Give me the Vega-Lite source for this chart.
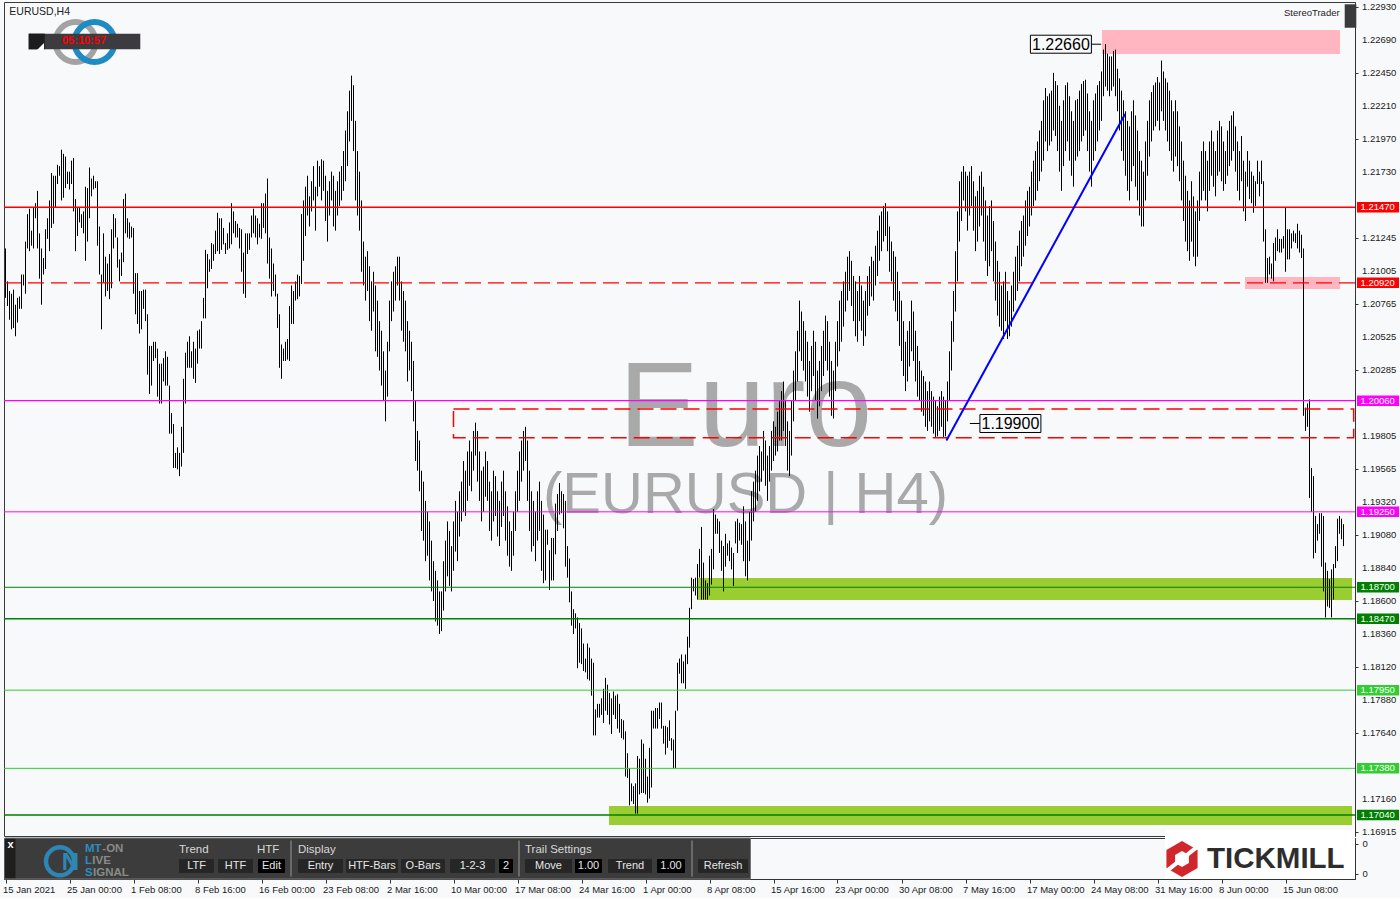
{
"$schema": "https://vega.github.io/schema/vega-lite/v6.json",
"background": "#F8F9FB",
"padding": {"left": 2, "top": 1, "right": 4, "bottom": 4},
"spacing": 2,
"bounds": "flush",
"resolve": {"scale": {"color": "independent"}},
"config": {
 "view": {"stroke": "#3a3a3a", "strokeWidth": 1, "fill": "#F8F9FB"},
 "font": "Liberation Sans",
 "axis": {"labelFont": "Liberation Sans", "labelFontSize": 9.5, "labelColor": "#1a1a1a", "domainColor": "#333333", "tickColor": "#333333", "grid": false, "title": null, "labelOverlap": false, "labelFlush": false, "labelBound": false}
},
"datasets": {
 "levels": [
  {"p": 1.2147, "kind": "red", "w": "thick", "d": "solid"},
  {"p": 1.2092, "kind": "red", "w": "mid", "d": "dashed"},
  {"p": 1.2006, "kind": "magenta", "w": "mid", "d": "solid"},
  {"p": 1.1925, "kind": "magenta", "w": "thin", "d": "solid"},
  {"p": 1.187, "kind": "green", "w": "thin", "d": "solid"},
  {"p": 1.1847, "kind": "green", "w": "thick", "d": "solid"},
  {"p": 1.1795, "kind": "lime", "w": "thin", "d": "solid"},
  {"p": 1.1738, "kind": "lime", "w": "thin", "d": "solid"},
  {"p": 1.1704, "kind": "green", "w": "thick", "d": "solid"}
 ],
 "ticks": [{"p": 1.2293}, {"p": 1.2269}, {"p": 1.2245}, {"p": 1.2221}, {"p": 1.2197}, {"p": 1.2173}, {"p": 1.21245}, {"p": 1.21005}, {"p": 1.20765}, {"p": 1.20525}, {"p": 1.20285}, {"p": 1.19805}, {"p": 1.19565}, {"p": 1.1932}, {"p": 1.1908}, {"p": 1.1884}, {"p": 1.186}, {"p": 1.1836}, {"p": 1.1812}, {"p": 1.1788}, {"p": 1.1764}, {"p": 1.1716}, {"p": 1.16915}]
},
"vconcat": [
{
 "width": 1351, "height": 834,
 "layer": [
  {"data": {"values": [
    {"i": 548.25, "i2": 667.25, "p": 1.22588, "p2": 1.22763, "kind": "supply"},
    {"i": 619.75, "i2": 667.25, "p": 1.20874, "p2": 1.20962, "kind": "supply"},
    {"i": 346.25, "i2": 673.25, "p": 1.18607, "p2": 1.18768, "kind": "demand"},
    {"i": 301.75, "i2": 673.25, "p": 1.16967, "p2": 1.17106, "kind": "demand"}]},
   "mark": {"type": "rect"},
   "encoding": {
    "x": {"field": "i", "type": "quantitative", "scale": {"domain": [-0.75, 674.75], "nice": false, "zero": false}, "axis": null},
    "x2": {"field": "i2"},
    "y": {"field": "p", "type": "quantitative", "scale": {"domain": [1.168868, 1.229667], "nice": false, "zero": false}},
    "y2": {"field": "p2"},
    "color": {"field": "kind", "type": "nominal", "scale": {"domain": ["supply", "demand", "red", "magenta", "green", "lime"], "range": ["#FFB6C1", "#9ACD32", "#FF0000", "#FF00FF", "#008000", "#32CD32"]}, "legend": null}}},
  {"data": {"values": [{"i": 370, "p": 1.1973, "label": "Euro"}]},
   "mark": {"type": "text", "fontSize": 120, "color": "#A9A9A9", "align": "center", "baseline": "alphabetic", "font": "Liberation Sans"},
   "encoding": {
    "x": {"field": "i", "type": "quantitative", "scale": {"domain": [-0.75, 674.75], "nice": false, "zero": false}, "axis": null},
    "y": {"field": "p", "type": "quantitative", "scale": {"domain": [1.168868, 1.229667], "nice": false, "zero": false}},
    "text": {"field": "label"}}},
  {"data": {"values": [{"i": 370, "p": 1.1924, "label": "(EURUSD | H4)"}]},
   "mark": {"type": "text", "fontSize": 58, "color": "#A9A9A9", "align": "center", "baseline": "alphabetic", "font": "Liberation Sans"},
   "encoding": {
    "x": {"field": "i", "type": "quantitative", "scale": {"domain": [-0.75, 674.75], "nice": false, "zero": false}, "axis": null},
    "y": {"field": "p", "type": "quantitative", "scale": {"domain": [1.168868, 1.229667], "nice": false, "zero": false}},
    "text": {"field": "label"}}},
  {"data": {"values": "i,h,l\n0,1.2117,1.2081\n1,1.2093,1.2075\n2,1.2086,1.2065\n3,1.2084,1.2058\n4,1.2087,1.2059\n5,1.2076,1.2053\n6,1.2081,1.2063\n7,1.2082,1.2073\n8,1.2098,1.2073\n9,1.2098,1.2090\n10,1.2122,1.2084\n11,1.2142,1.2117\n12,1.2146,1.2115\n13,1.2130,1.2119\n14,1.2147,1.2117\n15,1.2150,1.2139\n16,1.2159,1.2117\n17,1.2128,1.2095\n18,1.2117,1.2076\n19,1.2110,1.2098\n20,1.2131,1.2102\n21,1.2139,1.2124\n22,1.2152,1.2115\n23,1.2172,1.2132\n24,1.2170,1.2135\n25,1.2170,1.2147\n26,1.2178,1.2164\n27,1.2177,1.2170\n28,1.2189,1.2152\n29,1.2186,1.2154\n30,1.2184,1.2161\n31,1.2173,1.2164\n32,1.2173,1.2160\n33,1.2181,1.2164\n34,1.2183,1.2144\n35,1.2153,1.2115\n36,1.2147,1.2126\n37,1.2147,1.2136\n38,1.2142,1.2132\n39,1.2144,1.2128\n40,1.2162,1.2108\n41,1.2161,1.2122\n42,1.2176,1.2139\n43,1.2168,1.2155\n44,1.2170,1.2160\n45,1.2166,1.2161\n46,1.2166,1.2119\n47,1.2133,1.2098\n48,1.2098,1.2058\n49,1.2128,1.2092\n50,1.2111,1.2082\n51,1.2106,1.2086\n52,1.2113,1.2080\n53,1.2131,1.2088\n54,1.2142,1.2117\n55,1.2139,1.2125\n56,1.2125,1.2103\n57,1.2109,1.2093\n58,1.2114,1.2097\n59,1.2153,1.2107\n60,1.2157,1.2128\n61,1.2139,1.2125\n62,1.2136,1.2124\n63,1.2133,1.2125\n64,1.2132,1.2084\n65,1.2099,1.2069\n66,1.2099,1.2062\n67,1.2086,1.2055\n68,1.2086,1.2058\n69,1.2087,1.2073\n70,1.2087,1.2064\n71,1.2069,1.2025\n72,1.2046,1.2011\n73,1.2046,1.2017\n74,1.2049,1.2035\n75,1.2049,1.2037\n76,1.2044,1.2009\n77,1.2033,1.2004\n78,1.2033,1.2004\n79,1.2037,1.2020\n80,1.2042,1.2017\n81,1.2038,1.2017\n82,1.2017,1.1982\n83,1.1997,1.1982\n84,1.1989,1.1957\n85,1.1968,1.1957\n86,1.1972,1.1956\n87,1.1968,1.1951\n88,1.1987,1.1958\n89,1.2022,1.1968\n90,1.2041,1.2004\n91,1.2049,1.2030\n92,1.2053,1.2030\n93,1.2042,1.2030\n94,1.2049,1.2022\n95,1.2044,1.2019\n96,1.2057,1.2033\n97,1.2058,1.2044\n98,1.2064,1.2044\n99,1.2081,1.2066\n100,1.2116,1.2066\n101,1.2113,1.2088\n102,1.2109,1.2100\n103,1.2121,1.2102\n104,1.2120,1.2108\n105,1.2130,1.2113\n106,1.2143,1.2115\n107,1.2139,1.2113\n108,1.2139,1.2116\n109,1.2132,1.2120\n110,1.2121,1.2113\n111,1.2128,1.2116\n112,1.2136,1.2117\n113,1.2150,1.2120\n114,1.2144,1.2128\n115,1.2137,1.2125\n116,1.2135,1.2125\n117,1.2132,1.2117\n118,1.2131,1.2100\n119,1.2114,1.2084\n120,1.2128,1.2081\n121,1.2128,1.2113\n122,1.2128,1.2116\n123,1.2141,1.2125\n124,1.2146,1.2128\n125,1.2141,1.2125\n126,1.2139,1.2120\n127,1.2135,1.2125\n128,1.2150,1.2124\n129,1.2150,1.2132\n130,1.2157,1.2128\n131,1.2168,1.2106\n132,1.2125,1.2095\n133,1.2117,1.2082\n134,1.2106,1.2086\n135,1.2098,1.2082\n136,1.2084,1.2059\n137,1.2069,1.2030\n138,1.2047,1.2022\n139,1.2044,1.2035\n140,1.2049,1.2035\n141,1.2051,1.2036\n142,1.2075,1.2035\n143,1.2090,1.2062\n144,1.2086,1.2062\n145,1.2093,1.2079\n146,1.2098,1.2080\n147,1.2097,1.2082\n148,1.2142,1.2091\n149,1.2152,1.2108\n150,1.2162,1.2126\n151,1.2170,1.2141\n152,1.2155,1.2133\n153,1.2166,1.2144\n154,1.2177,1.2152\n155,1.2162,1.2130\n156,1.2181,1.2155\n157,1.2177,1.2162\n158,1.2182,1.2152\n159,1.2181,1.2159\n160,1.2170,1.2137\n161,1.2159,1.2122\n162,1.2166,1.2141\n163,1.2173,1.2152\n164,1.2170,1.2133\n165,1.2159,1.2130\n166,1.2166,1.2141\n167,1.2173,1.2148\n168,1.2177,1.2152\n169,1.2188,1.2159\n170,1.2203,1.2166\n171,1.2217,1.2177\n172,1.2232,1.2195\n173,1.2243,1.2210\n174,1.2236,1.2188\n175,1.2210,1.2152\n176,1.2188,1.2141\n177,1.2173,1.2130\n178,1.2152,1.2100\n179,1.2122,1.2090\n180,1.2111,1.2079\n181,1.2115,1.2086\n182,1.2104,1.2064\n183,1.2093,1.2057\n184,1.2100,1.2071\n185,1.2090,1.2042\n186,1.2079,1.2038\n187,1.2064,1.2028\n188,1.2057,1.2017\n189,1.2042,1.2006\n190,1.2028,1.1991\n191,1.2049,1.2009\n192,1.2079,1.2042\n193,1.2093,1.2064\n194,1.2100,1.2071\n195,1.2104,1.2079\n196,1.2111,1.2090\n197,1.2111,1.2079\n198,1.2093,1.2057\n199,1.2086,1.2049\n200,1.2079,1.2042\n201,1.2064,1.2020\n202,1.2057,1.2028\n203,1.2049,1.2013\n204,1.2035,1.1991\n205,1.2006,1.1962\n206,1.1984,1.1955\n207,1.1977,1.1940\n208,1.1955,1.1911\n209,1.1947,1.1904\n210,1.1933,1.1889\n211,1.1925,1.1893\n212,1.1918,1.1875\n213,1.1904,1.1867\n214,1.1889,1.1860\n215,1.1882,1.1845\n216,1.1875,1.1842\n217,1.1867,1.1836\n218,1.1867,1.1838\n219,1.1889,1.1853\n220,1.1904,1.1867\n221,1.1918,1.1878\n222,1.1911,1.1871\n223,1.1900,1.1867\n224,1.1918,1.1882\n225,1.1933,1.1896\n226,1.1925,1.1889\n227,1.1940,1.1907\n228,1.1947,1.1918\n229,1.1962,1.1925\n230,1.1955,1.1922\n231,1.1969,1.1933\n232,1.1977,1.1944\n233,1.1969,1.1940\n234,1.1984,1.1955\n235,1.1990,1.1966\n236,1.1984,1.1947\n237,1.1969,1.1933\n238,1.1955,1.1918\n239,1.1958,1.1925\n240,1.1969,1.1936\n241,1.1962,1.1933\n242,1.1947,1.1911\n243,1.1940,1.1904\n244,1.1955,1.1918\n245,1.1951,1.1922\n246,1.1940,1.1907\n247,1.1933,1.1900\n248,1.1947,1.1914\n249,1.1955,1.1922\n250,1.1940,1.1904\n251,1.1929,1.1893\n252,1.1918,1.1885\n253,1.1911,1.1882\n254,1.1925,1.1893\n255,1.1940,1.1911\n256,1.1955,1.1925\n257,1.1969,1.1933\n258,1.1977,1.1947\n259,1.1984,1.1955\n260,1.1987,1.1962\n261,1.1977,1.1933\n262,1.1955,1.1911\n263,1.1940,1.1896\n264,1.1933,1.1900\n265,1.1925,1.1889\n266,1.1940,1.1904\n267,1.1947,1.1911\n268,1.1933,1.1882\n269,1.1923,1.1873\n270,1.1912,1.1875\n271,1.1912,1.1901\n272,1.1897,1.1868\n273,1.1906,1.1875\n274,1.1906,1.1875\n275,1.1931,1.1894\n276,1.1938,1.1911\n277,1.1946,1.1923\n278,1.1940,1.1924\n279,1.1938,1.1913\n280,1.1933,1.1885\n281,1.1900,1.1877\n282,1.1891,1.1859\n283,1.1867,1.1842\n284,1.1854,1.1836\n285,1.1851,1.1840\n286,1.1848,1.1811\n287,1.1844,1.1815\n288,1.1840,1.1814\n289,1.1829,1.1809\n290,1.1818,1.1808\n291,1.1829,1.1803\n292,1.1826,1.1802\n293,1.1818,1.1791\n294,1.1815,1.1762\n295,1.1781,1.1762\n296,1.1785,1.1775\n297,1.1785,1.1775\n298,1.1789,1.1777\n299,1.1796,1.1771\n300,1.1804,1.1780\n301,1.1799,1.1777\n302,1.1793,1.1770\n303,1.1789,1.1763\n304,1.1794,1.1777\n305,1.1791,1.1774\n306,1.1792,1.1767\n307,1.1785,1.1764\n308,1.1774,1.1760\n309,1.1773,1.1759\n310,1.1765,1.1732\n311,1.1749,1.1731\n312,1.1738,1.1711\n313,1.1727,1.1714\n314,1.1725,1.1712\n315,1.1727,1.1705\n316,1.1747,1.1705\n317,1.1745,1.1719\n318,1.1759,1.1720\n319,1.1756,1.1720\n320,1.1745,1.1719\n321,1.1732,1.1713\n322,1.1753,1.1716\n323,1.1780,1.1724\n324,1.1780,1.1767\n325,1.1782,1.1767\n326,1.1782,1.1767\n327,1.1786,1.1774\n328,1.1786,1.1767\n329,1.1769,1.1756\n330,1.1769,1.1748\n331,1.1768,1.1753\n332,1.1773,1.1758\n333,1.1760,1.1751\n334,1.1759,1.1738\n335,1.1780,1.1738\n336,1.1815,1.1780\n337,1.1818,1.1807\n338,1.1821,1.1800\n339,1.1816,1.1800\n340,1.1821,1.1796\n341,1.1834,1.1814\n342,1.1855,1.1826\n343,1.1877,1.1854\n344,1.1876,1.1867\n345,1.1877,1.1864\n346,1.1887,1.1861\n347,1.1898,1.1877\n348,1.1914,1.1861\n349,1.1888,1.1861\n350,1.1875,1.1861\n351,1.1873,1.1861\n352,1.1893,1.1864\n353,1.1898,1.1872\n354,1.1927,1.1883\n355,1.1923,1.1909\n356,1.1920,1.1909\n357,1.1918,1.1895\n358,1.1904,1.1882\n359,1.1900,1.1867\n360,1.1909,1.1885\n361,1.1902,1.1893\n362,1.1904,1.1889\n363,1.1899,1.1883\n364,1.1895,1.1871\n365,1.1918,1.1902\n366,1.1920,1.1895\n367,1.1917,1.1904\n368,1.1916,1.1901\n369,1.1929,1.1889\n370,1.1918,1.1878\n371,1.1904,1.1875\n372,1.1925,1.1889\n373,1.1940,1.1904\n374,1.1947,1.1918\n375,1.1955,1.1925\n376,1.1966,1.1933\n377,1.1973,1.1940\n378,1.1969,1.1947\n379,1.1984,1.1955\n380,1.1977,1.1944\n381,1.1966,1.1933\n382,1.1973,1.1947\n383,1.1984,1.1955\n384,1.1991,1.1962\n385,1.1987,1.1966\n386,1.1998,1.1969\n387,1.2006,1.1977\n388,1.2013,1.1977\n389,1.2020,1.1984\n390,1.2006,1.1973\n391,1.1991,1.1955\n392,1.1984,1.1951\n393,1.2006,1.1966\n394,1.2028,1.1991\n395,1.2042,1.2006\n396,1.2057,1.2020\n397,1.2079,1.2042\n398,1.2071,1.2035\n399,1.2064,1.2028\n400,1.2057,1.2020\n401,1.2049,1.2009\n402,1.2035,1.1998\n403,1.2046,1.2013\n404,1.2057,1.2024\n405,1.2049,1.2006\n406,1.2028,1.1993\n407,1.2035,1.2002\n408,1.2046,1.2013\n409,1.2057,1.2024\n410,1.2068,1.2035\n411,1.2064,1.2028\n412,1.2049,1.2009\n413,1.2035,1.1995\n414,1.2028,1.1993\n415,1.2049,1.2013\n416,1.2064,1.2031\n417,1.2079,1.2042\n418,1.2086,1.2049\n419,1.2093,1.2060\n420,1.2100,1.2071\n421,1.2111,1.2079\n422,1.2115,1.2086\n423,1.2108,1.2075\n424,1.2097,1.2064\n425,1.2093,1.2053\n426,1.2086,1.2049\n427,1.2097,1.2064\n428,1.2090,1.2057\n429,1.2079,1.2046\n430,1.2086,1.2053\n431,1.2097,1.2068\n432,1.2104,1.2075\n433,1.2111,1.2082\n434,1.2108,1.2079\n435,1.2119,1.2090\n436,1.2130,1.2097\n437,1.2141,1.2108\n438,1.2144,1.2115\n439,1.2148,1.2122\n440,1.2150,1.2126\n441,1.2144,1.2115\n442,1.2133,1.2100\n443,1.2122,1.2093\n444,1.2115,1.2079\n445,1.2111,1.2071\n446,1.2100,1.2064\n447,1.2086,1.2046\n448,1.2079,1.2035\n449,1.2064,1.2024\n450,1.2049,1.2013\n451,1.2057,1.2020\n452,1.2064,1.2031\n453,1.2079,1.2042\n454,1.2071,1.2035\n455,1.2057,1.2020\n456,1.2046,1.2009\n457,1.2035,1.2006\n458,1.2028,1.1998\n459,1.2024,1.1995\n460,1.2020,1.1987\n461,1.2013,1.1984\n462,1.2020,1.1991\n463,1.2013,1.1987\n464,1.2009,1.1982\n465,1.2006,1.1979\n466,1.2002,1.1980\n467,1.2009,1.1984\n468,1.2013,1.1987\n469,1.2009,1.1979\n470,1.2006,1.1980\n471,1.2020,1.1991\n472,1.2042,1.2006\n473,1.2064,1.2028\n474,1.2086,1.2049\n475,1.2115,1.2071\n476,1.2144,1.2093\n477,1.2166,1.2122\n478,1.2173,1.2137\n479,1.2177,1.2152\n480,1.2173,1.2144\n481,1.2170,1.2130\n482,1.2173,1.2141\n483,1.2177,1.2148\n484,1.2166,1.2130\n485,1.2155,1.2115\n486,1.2159,1.2122\n487,1.2170,1.2133\n488,1.2173,1.2141\n489,1.2162,1.2122\n490,1.2152,1.2108\n491,1.2141,1.2097\n492,1.2148,1.2104\n493,1.2152,1.2115\n494,1.2137,1.2093\n495,1.2122,1.2079\n496,1.2108,1.2068\n497,1.2100,1.2060\n498,1.2090,1.2057\n499,1.2093,1.2051\n500,1.2100,1.2064\n501,1.2086,1.2051\n502,1.2079,1.2053\n503,1.2090,1.2060\n504,1.2100,1.2071\n505,1.2111,1.2079\n506,1.2119,1.2086\n507,1.2130,1.2093\n508,1.2137,1.2104\n509,1.2141,1.2111\n510,1.2152,1.2119\n511,1.2159,1.2126\n512,1.2162,1.2133\n513,1.2173,1.2141\n514,1.2181,1.2148\n515,1.2188,1.2152\n516,1.2195,1.2159\n517,1.2203,1.2166\n518,1.2210,1.2173\n519,1.2225,1.2181\n520,1.2234,1.2195\n521,1.2228,1.2188\n522,1.2230,1.2192\n523,1.2232,1.2195\n524,1.2245,1.2203\n525,1.2239,1.2199\n526,1.2236,1.2188\n527,1.2221,1.2173\n528,1.2210,1.2159\n529,1.2225,1.2177\n530,1.2236,1.2188\n531,1.2238,1.2195\n532,1.2228,1.2181\n533,1.2217,1.2170\n534,1.2210,1.2162\n535,1.2225,1.2181\n536,1.2226,1.2184\n537,1.2232,1.2188\n538,1.2237,1.2195\n539,1.2239,1.2199\n540,1.2240,1.2203\n541,1.2230,1.2188\n542,1.2217,1.2173\n543,1.2210,1.2162\n544,1.2225,1.2181\n545,1.2230,1.2188\n546,1.2236,1.2195\n547,1.2239,1.2203\n548,1.2246,1.2210\n549,1.2262,1.2228\n550,1.2266,1.2235\n551,1.2259,1.2232\n552,1.2257,1.2228\n553,1.2257,1.2232\n554,1.2261,1.2235\n555,1.2262,1.2228\n556,1.2248,1.2217\n557,1.2241,1.2203\n558,1.2232,1.2188\n559,1.2225,1.2181\n560,1.2217,1.2170\n561,1.2210,1.2159\n562,1.2206,1.2152\n563,1.2217,1.2166\n564,1.2225,1.2177\n565,1.2214,1.2162\n566,1.2203,1.2152\n567,1.2188,1.2141\n568,1.2181,1.2133\n569,1.2173,1.2133\n570,1.2195,1.2152\n571,1.2210,1.2170\n572,1.2225,1.2184\n573,1.2231,1.2195\n574,1.2236,1.2203\n575,1.2238,1.2206\n576,1.2242,1.2210\n577,1.2238,1.2203\n578,1.2254,1.2217\n579,1.2246,1.2210\n580,1.2241,1.2203\n581,1.2238,1.2195\n582,1.2232,1.2188\n583,1.2225,1.2181\n584,1.2217,1.2173\n585,1.2225,1.2184\n586,1.2217,1.2177\n587,1.2206,1.2166\n588,1.2195,1.2152\n589,1.2181,1.2137\n590,1.2170,1.2122\n591,1.2159,1.2115\n592,1.2152,1.2108\n593,1.2166,1.2122\n594,1.2155,1.2111\n595,1.2144,1.2104\n596,1.2152,1.2111\n597,1.2173,1.2137\n598,1.2188,1.2152\n599,1.2195,1.2159\n600,1.2188,1.2152\n601,1.2181,1.2144\n602,1.2195,1.2159\n603,1.2203,1.2170\n604,1.2195,1.2162\n605,1.2188,1.2155\n606,1.2203,1.2170\n607,1.2210,1.2173\n608,1.2206,1.2166\n609,1.2195,1.2159\n610,1.2188,1.2164\n611,1.2203,1.2170\n612,1.2210,1.2177\n613,1.2214,1.2181\n614,1.2217,1.2188\n615,1.2206,1.2173\n616,1.2195,1.2159\n617,1.2188,1.2152\n618,1.2199,1.2166\n619,1.2181,1.2144\n620,1.2173,1.2137\n621,1.2188,1.2162\n622,1.2181,1.2153\n623,1.2173,1.2150\n624,1.2170,1.2143\n625,1.2166,1.2148\n626,1.2181,1.2164\n627,1.2173,1.2155\n628,1.2181,1.2164\n629,1.2166,1.2122\n630,1.2131,1.2092\n631,1.2110,1.2092\n632,1.2111,1.2098\n633,1.2106,1.2095\n634,1.2121,1.2093\n635,1.2125,1.2108\n636,1.2131,1.2115\n637,1.2124,1.2114\n638,1.2124,1.2114\n639,1.2126,1.2117\n640,1.2147,1.2100\n641,1.2131,1.2109\n642,1.2131,1.2109\n643,1.2128,1.2117\n644,1.2130,1.2122\n645,1.2128,1.2121\n646,1.2135,1.2117\n647,1.2130,1.2114\n648,1.2127,1.2110\n649,1.2117,1.1995\n650,1.2001,1.1984\n651,1.2004,1.1987\n652,1.2007,1.1935\n653,1.1957,1.1925\n654,1.1951,1.1891\n655,1.1922,1.1895\n656,1.1916,1.1904\n657,1.1924,1.1909\n658,1.1924,1.1885\n659,1.1922,1.1867\n660,1.1888,1.1848\n661,1.1882,1.1856\n662,1.1876,1.1855\n663,1.1883,1.1848\n664,1.1887,1.1861\n665,1.1900,1.1884\n666,1.1920,1.1889\n667,1.1922,1.1909\n668,1.1920,1.1905\n669,1.1916,1.1900", "format": {"type": "csv", "parse": {"i": "number", "h": "number", "l": "number"}}},
   "mark": {"type": "rule", "color": "#000000", "strokeWidth": 1},
   "encoding": {
    "x": {"field": "i", "type": "quantitative", "scale": {"domain": [-0.75, 674.75], "nice": false, "zero": false}, "axis": null},
    "y": {"field": "h", "type": "quantitative", "scale": {"domain": [1.168868, 1.229667], "nice": false, "zero": false},
          "axis": {"orient": "right", "title": null, "values": [1.2293, 1.2269, 1.2245, 1.2221, 1.2197, 1.2173, 1.21245, 1.21005, 1.20765, 1.20525, 1.20285, 1.19805, 1.19565, 1.1932, 1.1908, 1.1884, 1.186, 1.1836, 1.1812, 1.1788, 1.1764, 1.1716, 1.16915], "labels": false, "tickSize": 3, "grid": false}},
    "y2": {"field": "l"}}},
  {"data": {"name": "ticks"},
   "mark": {"type": "text", "fontSize": 9.5, "color": "#1a1a1a", "align": "left", "baseline": "middle"},
   "encoding": {
    "x": {"datum": 678.25, "type": "quantitative", "scale": {"domain": [-0.75, 674.75], "nice": false, "zero": false}, "axis": null},
    "y": {"field": "p", "type": "quantitative", "scale": {"domain": [1.168868, 1.229667], "nice": false, "zero": false}},
    "text": {"field": "p", "type": "quantitative", "format": ".5f"}}},
  {"data": {"name": "levels"},
   "mark": {"type": "rule"},
   "encoding": {
    "y": {"field": "p", "type": "quantitative", "scale": {"domain": [1.168868, 1.229667], "nice": false, "zero": false}},
    "color": {"field": "kind", "type": "nominal", "scale": {"domain": ["supply", "demand", "red", "magenta", "green", "lime"], "range": ["#FFB6C1", "#9ACD32", "#FF0000", "#FF00FF", "#008000", "#32CD32"]}, "legend": null},
    "strokeWidth": {"field": "w", "type": "ordinal", "scale": {"domain": ["thin", "mid", "thick"], "range": [1, 1.5, 2.2]}, "legend": null},
    "strokeDash": {"field": "d", "type": "nominal", "scale": {"domain": ["solid", "dashed"], "range": [[1, 0], [16, 7]]}, "legend": null}}},
  {"data": {"values": [{"i": 224, "i2": 674.1, "p": 1.1979, "p2": 1.2000}]},
   "mark": {"type": "rect", "fillOpacity": 0, "stroke": "#FF0000", "strokeWidth": 1.5, "strokeDash": [16, 7]},
   "encoding": {
    "x": {"field": "i", "type": "quantitative", "scale": {"domain": [-0.75, 674.75], "nice": false, "zero": false}, "axis": null},
    "x2": {"field": "i2"},
    "y": {"field": "p", "type": "quantitative", "scale": {"domain": [1.168868, 1.229667], "nice": false, "zero": false}},
    "y2": {"field": "p2"}}},
  {"data": {"values": [{"i": 470.45, "p": 1.1977}, {"i": 559.8, "p": 1.2215}]},
   "mark": {"type": "line", "color": "#0000FF", "strokeWidth": 2},
   "encoding": {
    "x": {"field": "i", "type": "quantitative", "scale": {"domain": [-0.75, 674.75], "nice": false, "zero": false}, "axis": null},
    "y": {"field": "p", "type": "quantitative", "scale": {"domain": [1.168868, 1.229667], "nice": false, "zero": false}}}},
  {"data": {"values": [{"i": 527.7, "p": 1.22659, "label": "1.22660", "side": "right"}, {"i": 502.45, "p": 1.19894, "label": "1.19900", "side": "left"}]},
   "mark": {"type": "point", "filled": false, "color": "#000000", "strokeWidth": 1, "size": 3721, "opacity": 1},
   "encoding": {
    "x": {"field": "i", "type": "quantitative", "scale": {"domain": [-0.75, 674.75], "nice": false, "zero": false}, "axis": null},
    "y": {"field": "p", "type": "quantitative", "scale": {"domain": [1.168868, 1.229667], "nice": false, "zero": false}},
    "shape": {"field": "side", "type": "nominal", "scale": {"domain": ["right", "left"], "range": ["M-1,-0.295L1,-0.295L1,0.295L-1,0.295ZM1,0L1.32,0", "M-1,-0.295L1,-0.295L1,0.295L-1,0.295ZM-1,0L-1.33,0"]}, "legend": null}}},
  {"data": {"values": [{"i": 527.7, "p": 1.22659, "label": "1.22660"}, {"i": 502.45, "p": 1.19894, "label": "1.19900"}]},
   "mark": {"type": "text", "fontSize": 16, "color": "#000000", "align": "center", "baseline": "middle", "dy": 1},
   "encoding": {
    "x": {"field": "i", "type": "quantitative", "scale": {"domain": [-0.75, 674.75], "nice": false, "zero": false}, "axis": null},
    "y": {"field": "p", "type": "quantitative", "scale": {"domain": [1.168868, 1.229667], "nice": false, "zero": false}},
    "text": {"field": "label"}}},
  {"data": {"name": "levels"},
   "mark": {"type": "point", "filled": true, "opacity": 1, "shape": "M-1,-0.25L1,-0.25L1,0.25L-1,0.25Z", "size": 1764, "strokeWidth": 0},
   "encoding": {
    "x": {"datum": 686.25, "type": "quantitative", "scale": {"domain": [-0.75, 674.75], "nice": false, "zero": false}, "axis": null},
    "y": {"field": "p", "type": "quantitative", "scale": {"domain": [1.168868, 1.229667], "nice": false, "zero": false}},
    "color": {"field": "kind", "type": "nominal", "scale": {"domain": ["supply", "demand", "red", "magenta", "green", "lime"], "range": ["#FFB6C1", "#9ACD32", "#FF0000", "#FF00FF", "#008000", "#32CD32"]}, "legend": null}}},
  {"data": {"name": "levels"},
   "mark": {"type": "text", "fontSize": 9.5, "color": "#FFFFFF", "align": "left", "baseline": "middle"},
   "encoding": {
    "x": {"datum": 677.5, "type": "quantitative", "scale": {"domain": [-0.75, 674.75], "nice": false, "zero": false}, "axis": null},
    "y": {"field": "p", "type": "quantitative", "scale": {"domain": [1.168868, 1.229667], "nice": false, "zero": false}},
    "text": {"field": "p", "type": "quantitative", "format": ".5f"}}},
  {"data": {"values": [{"i": 1.9, "p": 1.22897, "label": "EURUSD,H4", "sz": "a"}, {"i": 639.25, "p": 1.22886, "label": "StereoTrader", "sz": "b"}]},
   "mark": {"type": "text", "color": "#222222", "align": "left", "baseline": "middle"},
   "encoding": {
    "x": {"field": "i", "type": "quantitative", "scale": {"domain": [-0.75, 674.75], "nice": false, "zero": false}, "axis": null},
    "y": {"field": "p", "type": "quantitative", "scale": {"domain": [1.168868, 1.229667], "nice": false, "zero": false}},
    "size": {"field": "sz", "type": "nominal", "scale": {"domain": ["a", "b"], "range": [10.5, 9.5]}, "legend": null},
    "text": {"field": "label"}}},
  {"data": {"values": [{"i": 35, "p": 1.22675}]},
   "mark": {"type": "point", "shape": "circle", "filled": false, "color": "#A3A3A3", "strokeWidth": 6, "size": 1600, "opacity": 1},
   "encoding": {
    "x": {"field": "i", "type": "quantitative", "scale": {"domain": [-0.75, 674.75], "nice": false, "zero": false}, "axis": null},
    "y": {"field": "p", "type": "quantitative", "scale": {"domain": [1.168868, 1.229667], "nice": false, "zero": false}}}},
  {"data": {"values": [{"i": 44.5, "p": 1.22675}]},
   "mark": {"type": "point", "shape": "circle", "filled": false, "color": "#1E8BC3", "strokeWidth": 6, "size": 1600, "opacity": 1},
   "encoding": {
    "x": {"field": "i", "type": "quantitative", "scale": {"domain": [-0.75, 674.75], "nice": false, "zero": false}, "axis": null},
    "y": {"field": "p", "type": "quantitative", "scale": {"domain": [1.168868, 1.229667], "nice": false, "zero": false}}}},
  {"data": {"values": [{"i": 11.6, "i2": 67.4, "p": 1.22622, "p2": 1.22736}]},
   "mark": {"type": "rect", "color": "#3B3B40"},
   "encoding": {
    "x": {"field": "i", "type": "quantitative", "scale": {"domain": [-0.75, 674.75], "nice": false, "zero": false}, "axis": null},
    "x2": {"field": "i2"},
    "y": {"field": "p", "type": "quantitative", "scale": {"domain": [1.168868, 1.229667], "nice": false, "zero": false}},
    "y2": {"field": "p2"}}},
  {"data": {"values": [{"i": 11.6, "i2": 19.6, "p": 1.22622, "p2": 1.22736}]},
   "mark": {"type": "rect", "color": "#1C1C1C"},
   "encoding": {
    "x": {"field": "i", "type": "quantitative", "scale": {"domain": [-0.75, 674.75], "nice": false, "zero": false}, "axis": null},
    "x2": {"field": "i2"},
    "y": {"field": "p", "type": "quantitative", "scale": {"domain": [1.168868, 1.229667], "nice": false, "zero": false}},
    "y2": {"field": "p2"}}},
  {"data": {"values": [{"i": 17.5, "p": 1.22642}]},
   "mark": {"type": "point", "shape": "M1,-1L1,1L-1,1Z", "filled": true, "color": "#FFFFFF", "size": 49, "opacity": 1},
   "encoding": {
    "x": {"field": "i", "type": "quantitative", "scale": {"domain": [-0.75, 674.75], "nice": false, "zero": false}, "axis": null},
    "y": {"field": "p", "type": "quantitative", "scale": {"domain": [1.168868, 1.229667], "nice": false, "zero": false}}}},
  {"data": {"values": [{"i": 39.25, "p": 1.22679, "label": "05:10:57"}]},
   "mark": {"type": "text", "fontSize": 11, "fontWeight": "bold", "color": "#FF0000", "align": "center", "baseline": "middle"},
   "encoding": {
    "x": {"field": "i", "type": "quantitative", "scale": {"domain": [-0.75, 674.75], "nice": false, "zero": false}, "axis": null},
    "y": {"field": "p", "type": "quantitative", "scale": {"domain": [1.168868, 1.229667], "nice": false, "zero": false}},
    "text": {"field": "label"}}},
  {"data": {"values": [{"i": 669.6, "i2": 675.4, "p": 1.22779, "p2": 1.2295}]},
   "mark": {"type": "rect", "color": "#3A3A3A"},
   "encoding": {
    "x": {"field": "i", "type": "quantitative", "scale": {"domain": [-0.75, 674.75], "nice": false, "zero": false}, "axis": null},
    "x2": {"field": "i2"},
    "y": {"field": "p", "type": "quantitative", "scale": {"domain": [1.168868, 1.229667], "nice": false, "zero": false}},
    "y2": {"field": "p2"}}}
 ]
},
{
 "width": 1351, "height": 41,
 "layer": [
  {"data": {"values": [{"i": -0.25, "i2": 372.5, "v": 0, "v2": 1}]},
   "mark": {"type": "rect", "fill": "#3C3C3C", "stroke": "#767676", "strokeWidth": 1},
   "encoding": {
    "x": {"field": "i", "type": "quantitative", "scale": {"domain": [-0.75, 674.75], "nice": false, "zero": false},
          "axis": {"orient": "bottom", "title": null, "values": [0, 32, 64, 96, 128, 160, 192, 224, 256, 288, 320, 352, 384, 416, 448, 480, 512, 544, 576, 608, 640], "labelExpr": "['15 Jan 2021','25 Jan 00:00','1 Feb 08:00','8 Feb 16:00','16 Feb 00:00','23 Feb 08:00','2 Mar 16:00','10 Mar 00:00','17 Mar 08:00','24 Mar 16:00','1 Apr 00:00','8 Apr 08:00','15 Apr 16:00','23 Apr 00:00','30 Apr 08:00','7 May 16:00','17 May 00:00','24 May 08:00','31 May 16:00','8 Jun 00:00','15 Jun 08:00'][round(datum.value/32)]", "labelAlign": "left", "labelOffset": -3, "tickSize": 4, "labelPadding": 1, "grid": false, "labelOverlap": false, "labelFlush": false, "labelBound": false}},
    "x2": {"field": "i2"},
    "y": {"field": "v", "type": "quantitative", "scale": {"domain": [0, 1], "nice": false, "zero": false},
          "axis": {"orient": "right", "title": null, "values": [0.13, 0.854], "labelExpr": "'0'", "tickSize": 3, "labelPadding": 4, "labelBaseline": "middle", "grid": false, "labelOverlap": false}},
    "y2": {"field": "v2"}}},
  {"data": {"values": [{"i": -0.25, "i2": 5, "v": 0.02, "v2": 0.98}]},
   "mark": {"type": "rect", "fill": "#1E1E1E"},
   "encoding": {
    "x": {"field": "i", "type": "quantitative", "scale": {"domain": [-0.75, 674.75], "nice": false, "zero": false}},
    "x2": {"field": "i2"},
    "y": {"field": "v", "type": "quantitative", "scale": {"domain": [0, 1], "nice": false, "zero": false}},
    "y2": {"field": "v2"}}},
  {"data": {"values": [{"i": 142.75, "v": 0.06, "v2": 0.94}, {"i": 256.75, "v": 0.06, "v2": 0.94}, {"i": 343.25, "v": 0.06, "v2": 0.94}]},
   "mark": {"type": "rule", "color": "#6A6A6A", "strokeWidth": 2},
   "encoding": {
    "x": {"field": "i", "type": "quantitative", "scale": {"domain": [-0.75, 674.75], "nice": false, "zero": false}},
    "y": {"field": "v", "type": "quantitative", "scale": {"domain": [0, 1], "nice": false, "zero": false}},
    "y2": {"field": "v2"}}},
  {"data": {"values": [
    {"a": 86.75, "b": 104.25, "c": 95.5, "label": "LTF", "kind": "btn"},
    {"a": 106.25, "b": 123.75, "c": 115, "label": "HTF", "kind": "btn"},
    {"a": 126.25, "b": 139.75, "c": 133, "label": "Edit", "kind": "val"},
    {"a": 146.25, "b": 168.75, "c": 157.5, "label": "Entry", "kind": "btn"},
    {"a": 170.25, "b": 196.25, "c": 183.25, "label": "HTF-Bars", "kind": "btn"},
    {"a": 197.75, "b": 219.75, "c": 208.75, "label": "O-Bars", "kind": "btn"},
    {"a": 222.25, "b": 244.75, "c": 233.5, "label": "1-2-3", "kind": "btn"},
    {"a": 246.75, "b": 253.75, "c": 250.25, "label": "2", "kind": "val"},
    {"a": 259.75, "b": 283.25, "c": 271.5, "label": "Move", "kind": "btn"},
    {"a": 284.75, "b": 298.25, "c": 291.5, "label": "1.00", "kind": "val"},
    {"a": 301.25, "b": 323.25, "c": 312.25, "label": "Trend", "kind": "btn"},
    {"a": 325.75, "b": 339.75, "c": 332.75, "label": "1.00", "kind": "val"},
    {"a": 346.25, "b": 371.25, "c": 358.75, "label": "Refresh", "kind": "btn"}]},
   "layer": [
    {"mark": {"type": "rect", "cornerRadius": 1},
     "encoding": {
      "x": {"field": "a", "type": "quantitative", "scale": {"domain": [-0.75, 674.75], "nice": false, "zero": false}},
      "x2": {"field": "b"},
      "y": {"datum": 0.146, "type": "quantitative", "scale": {"domain": [0, 1], "nice": false, "zero": false}},
      "y2": {"datum": 0.488},
      "color": {"field": "kind", "type": "nominal", "scale": {"domain": ["btn", "val"], "range": ["#262626", "#000000"]}, "legend": null}}},
    {"mark": {"type": "text", "fontSize": 11, "color": "#E6E6E6", "align": "center", "baseline": "middle"},
     "encoding": {
      "x": {"field": "c", "type": "quantitative", "scale": {"domain": [-0.75, 674.75], "nice": false, "zero": false}},
      "y": {"datum": 0.317, "type": "quantitative", "scale": {"domain": [0, 1], "nice": false, "zero": false}},
      "text": {"field": "label"}}}
   ]},
  {"data": {"values": [{"i": 86.75, "label": "Trend"}, {"i": 125.75, "label": "HTF"}, {"i": 146.25, "label": "Display"}, {"i": 259.75, "label": "Trail Settings"}]},
   "mark": {"type": "text", "fontSize": 11.5, "color": "#D8D8D8", "align": "left", "baseline": "middle"},
   "encoding": {
    "x": {"field": "i", "type": "quantitative", "scale": {"domain": [-0.75, 674.75], "nice": false, "zero": false}},
    "y": {"datum": 0.707, "type": "quantitative", "scale": {"domain": [0, 1], "nice": false, "zero": false}},
    "text": {"field": "label"}}},
  {"data": {"values": [{"i": 2.5, "v": 0.84, "label": "x"}]},
   "mark": {"type": "text", "fontSize": 11, "fontWeight": "bold", "color": "#FFFFFF", "align": "center", "baseline": "middle"},
   "encoding": {
    "x": {"field": "i", "type": "quantitative", "scale": {"domain": [-0.75, 674.75], "nice": false, "zero": false}},
    "y": {"field": "v", "type": "quantitative", "scale": {"domain": [0, 1], "nice": false, "zero": false}},
    "text": {"field": "label"}}},
  {"data": {"values": [{"i": 27.25, "v": 0.43}]},
   "mark": {"type": "point", "shape": "circle", "filled": false, "color": "#2E86B5", "strokeWidth": 4.5, "size": 784, "opacity": 1},
   "encoding": {
    "x": {"field": "i", "type": "quantitative", "scale": {"domain": [-0.75, 674.75], "nice": false, "zero": false}},
    "y": {"field": "v", "type": "quantitative", "scale": {"domain": [0, 1], "nice": false, "zero": false}}}},
  {"data": {"values": [{"i": 32.5, "v": 0.4, "label": "N"}]},
   "mark": {"type": "text", "fontSize": 24, "fontWeight": "bold", "color": "#2E86B5", "align": "center", "baseline": "middle"},
   "encoding": {
    "x": {"field": "i", "type": "quantitative", "scale": {"domain": [-0.75, 674.75], "nice": false, "zero": false}},
    "y": {"field": "v", "type": "quantitative", "scale": {"domain": [0, 1], "nice": false, "zero": false}},
    "text": {"field": "label"}}},
  {"data": {"values": [{"i": 48.4, "v": 0.73, "label": "-ON"}, {"i": 43.4, "v": 0.43, "label": "IVE"}, {"i": 43.75, "v": 0.15, "label": "IGNAL"}]},
   "mark": {"type": "text", "fontSize": 11.5, "fontWeight": "bold", "color": "#8A8A8A", "align": "left", "baseline": "middle"},
   "encoding": {
    "x": {"field": "i", "type": "quantitative", "scale": {"domain": [-0.75, 674.75], "nice": false, "zero": false}},
    "y": {"field": "v", "type": "quantitative", "scale": {"domain": [0, 1], "nice": false, "zero": false}},
    "text": {"field": "label"}}},
  {"data": {"values": [{"i": 39.75, "v": 0.73, "label": "MT"}, {"i": 39.75, "v": 0.43, "label": "L"}, {"i": 39.75, "v": 0.15, "label": "S"}]},
   "mark": {"type": "text", "fontSize": 11.5, "fontWeight": "bold", "color": "#2E8BC0", "align": "left", "baseline": "middle"},
   "encoding": {
    "x": {"field": "i", "type": "quantitative", "scale": {"domain": [-0.75, 674.75], "nice": false, "zero": false}},
    "y": {"field": "v", "type": "quantitative", "scale": {"domain": [0, 1], "nice": false, "zero": false}},
    "text": {"field": "label"}}},
  {"data": {"values": [{"i": 579.75, "i2": 674.75, "v": 0, "v2": 1.2}]},
   "mark": {"type": "rect", "fill": "#FFFFFF"},
   "encoding": {
    "x": {"field": "i", "type": "quantitative", "scale": {"domain": [-0.75, 674.75], "nice": false, "zero": false}},
    "x2": {"field": "i2"},
    "y": {"field": "v", "type": "quantitative", "scale": {"domain": [0, 1], "nice": false, "zero": false}},
    "y2": {"field": "v2"}}},
  {"data": {"values": [{"i": 588.25, "v": 0.49}]},
   "mark": {"type": "point", "shape": "M0,-1L0.866,-0.5L0.866,0.5L0,1L-0.866,0.5L-0.866,-0.5Z", "filled": true, "color": "#D0262C", "size": 1296, "opacity": 1},
   "encoding": {
    "x": {"field": "i", "type": "quantitative", "scale": {"domain": [-0.75, 674.75], "nice": false, "zero": false}},
    "y": {"field": "v", "type": "quantitative", "scale": {"domain": [0, 1], "nice": false, "zero": false}}}},
  {"data": {"values": [{"i": 588.25, "v": 0.49}]},
   "mark": {"type": "point", "shape": "M0,-1L0.866,-0.5L0.866,0.5L0,1L-0.866,0.5L-0.866,-0.5Z", "filled": true, "color": "#FFFFFF", "size": 256, "opacity": 1},
   "encoding": {
    "x": {"field": "i", "type": "quantitative", "scale": {"domain": [-0.75, 674.75], "nice": false, "zero": false}},
    "y": {"field": "v", "type": "quantitative", "scale": {"domain": [0, 1], "nice": false, "zero": false}}}},
  {"data": {"values": [{"i": 588.25, "v": 0.49}]},
   "mark": {"type": "point", "shape": "M0.95,-0.75L-0.95,0.75", "filled": false, "color": "#FFFFFF", "strokeWidth": 4, "size": 1296, "opacity": 1},
   "encoding": {
    "x": {"field": "i", "type": "quantitative", "scale": {"domain": [-0.75, 674.75], "nice": false, "zero": false}},
    "y": {"field": "v", "type": "quantitative", "scale": {"domain": [0, 1], "nice": false, "zero": false}}}},
  {"data": {"values": [{"i": 600.75, "v": 0.49, "label": "TICKMILL"}]},
   "mark": {"type": "text", "fontSize": 29.5, "fontWeight": "bold", "color": "#2D2D2D", "align": "left", "baseline": "middle"},
   "encoding": {
    "x": {"field": "i", "type": "quantitative", "scale": {"domain": [-0.75, 674.75], "nice": false, "zero": false}},
    "y": {"field": "v", "type": "quantitative", "scale": {"domain": [0, 1], "nice": false, "zero": false}},
    "text": {"field": "label"}}}
 ]
}
]
}
